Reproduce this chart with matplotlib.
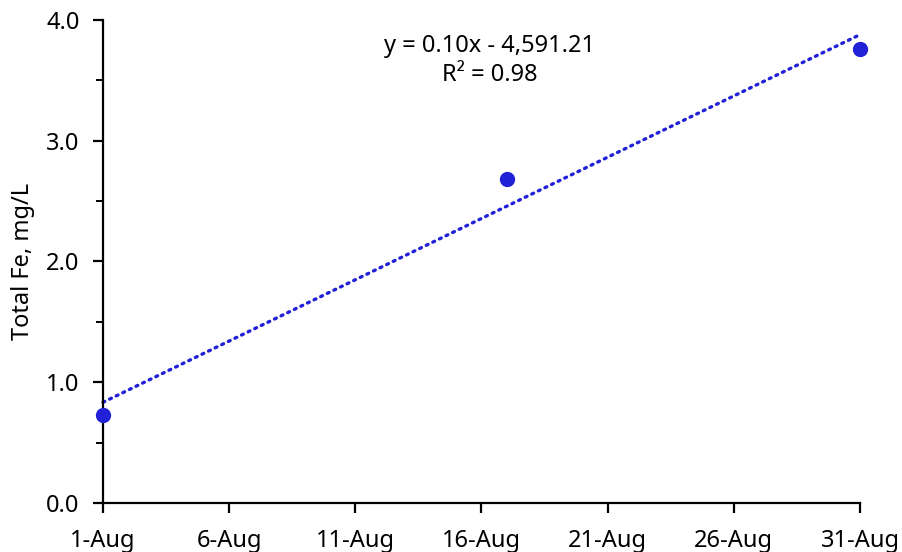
import matplotlib
matplotlib.use("Agg")
import matplotlib.pyplot as plt
import matplotlib.dates as mdates
from matplotlib.ticker import MultipleLocator
import numpy as np
from datetime import datetime

plt.rcParams["font.family"] = ["Noto Sans", "DejaVu Sans"]

# data
dates = [datetime(2023, 8, 1), datetime(2023, 8, 17), datetime(2023, 8, 31)]
fe_total = [0.73, 2.68, 3.76]
tick_dates = [datetime(2023, 8, d) for d in (1, 6, 11, 16, 21, 26, 31)]
eq_text = "y = 0.10x - 4,591.21"
r2_text = "R² = 0.98"

color = "#2121D8"
fs = 17

fig = plt.figure(figsize=(9.02, 5.52), dpi=100)
ax = fig.add_axes([0.1142, 0.0888, 0.8392, 0.875])

x = mdates.date2num(dates)
ax.plot(dates, fe_total, "o", color=color, markersize=10, zorder=3,
        clip_on=False)

# linear trendline
coef = np.polyfit(x, fe_total, 1)
xt = np.array([x[0], x[-1]])
ax.plot(mdates.num2date(xt), np.polyval(coef, xt), linestyle=(0, (0.6, 1.6)),
        color=color, linewidth=2.4, dash_capstyle="round", clip_on=False)

ax.set_xlim(dates[0], dates[-1])
ax.set_ylim(0, 4)
ax.set_xticks(tick_dates)
ax.xaxis.set_major_formatter(mdates.DateFormatter("%-d-%b"))
ax.yaxis.set_major_locator(MultipleLocator(1.0))
ax.yaxis.set_minor_locator(MultipleLocator(0.5))
ax.yaxis.set_major_formatter(matplotlib.ticker.FormatStrFormatter("%.1f"))

for side in ("top", "right"):
    ax.spines[side].set_visible(False)
for side in ("left", "bottom"):
    ax.spines[side].set_linewidth(1.6)
ax.tick_params(which="major", length=7, width=1.6, labelsize=fs)
ax.tick_params(axis="y", which="major", pad=10)
ax.tick_params(axis="x", which="major", pad=12)
ax.tick_params(which="minor", length=5, width=1.4)

ax.set_ylabel("Total Fe, mg/L", fontsize=fs, labelpad=8)

ax.text(0.511, 0.947, eq_text, transform=ax.transAxes, ha="center",
        va="center", fontsize=fs)
ax.text(0.511, 0.886, r2_text, transform=ax.transAxes, ha="center",
        va="center", fontsize=fs)

fig.savefig("out.png", dpi=100)
